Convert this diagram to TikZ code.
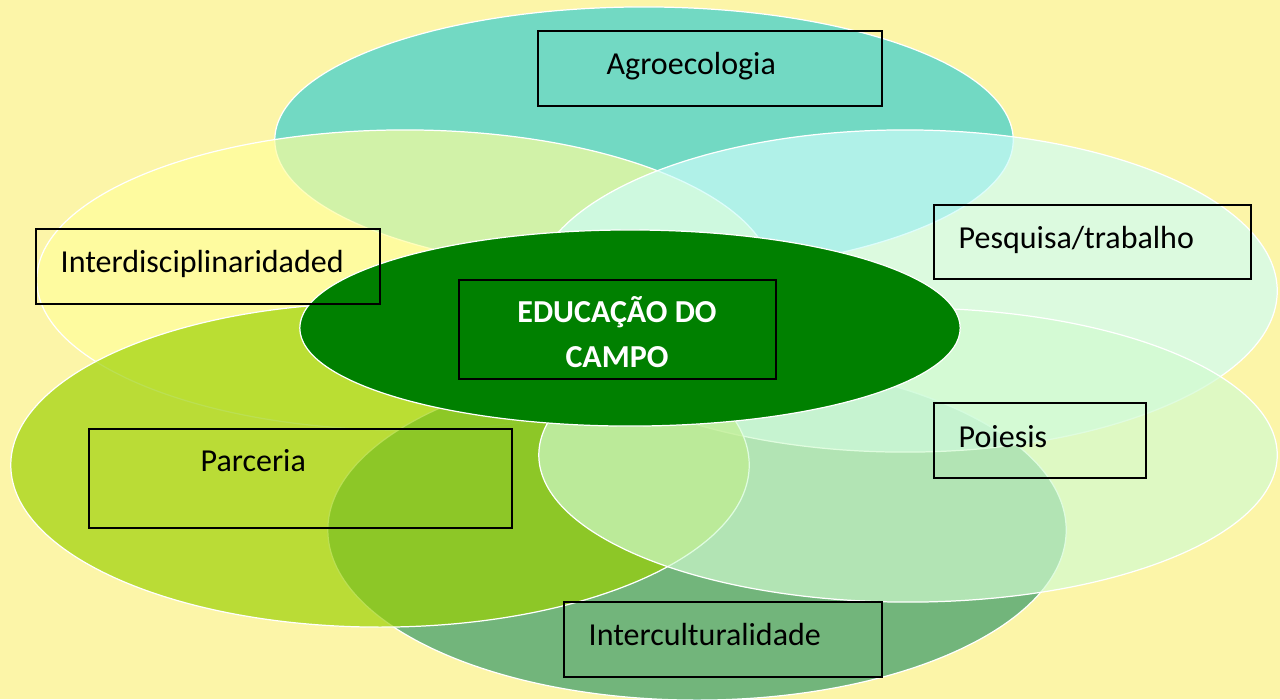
\documentclass[tikz,border=0pt]{standalone}
\usepackage{fontspec}
\setmainfont{Carlito}
\usepackage{tikz}
\usetikzlibrary{calc}
\usepackage{xcolor}
\definecolor{bgYellow}{RGB}{252,245,168}
\definecolor{myTeal}{RGB}{49,204,208}
\definecolor{myLemon}{RGB}{255,254,156}
\definecolor{myMint}{RGB}{206,253,250}
\definecolor{myPale}{RGB}{209,251,208}
\definecolor{myLime}{RGB}{155,209,0}
\definecolor{myForest}{RGB}{49,151,103}
\definecolor{myGreen}{RGB}{0,128,0}
\tikzset{
  blob/.style={fill opacity=0.68, draw=white, line width=0.35pt},
  labelbox/.style={draw=black, line width=0.6pt, inner sep=0pt, rectangle},
  labeltext/.style={inner sep=0pt, anchor=base west, text=black,
    font=\fontsize{9.1}{12.8}\selectfont},
}

\begin{document}
\begin{tikzpicture}[x=0.01cm, y=-0.01cm]

%%%%%%%%%%%%%%%%%%%%%%%%%%%%%%%%%%%%%%%%%%%%%%%%%%%%%%%%%%%%%% Setup
\useasboundingbox (0,0) rectangle (1280,699);
\fill[bgYellow] (0,0) rectangle (1280,699);

%%%%%%%%%%%%%%%%%%%%%%%%%%%%%%%%%%%%%%%%%%%%%%%%%%%%%%%%%%%%%% Ellipses

% agroecologia (top)
\filldraw[blob, fill=myTeal] (644,140) ellipse [x radius=3.69cm, y radius=1.33cm];
% interdisciplinaridade (left)
\filldraw[blob, fill=myLemon] (405,280) ellipse [x radius=3.68cm, y radius=1.50cm];
% interculturalidade (bottom)
\filldraw[blob, fill=myForest] (697,530) ellipse [x radius=3.69cm, y radius=1.70cm];
% pesquisa/trabalho (right)
\filldraw[blob, fill=myMint] (905,291) ellipse [x radius=3.72cm, y radius=1.61cm];
% parceria (lower left)
\filldraw[blob, fill=myLime] (380,465) ellipse [x radius=3.69cm, y radius=1.62cm];
% poiesis (lower right)
\filldraw[blob, fill=myPale] (908,455) ellipse [x radius=3.69cm, y radius=1.47cm];
% centre
\filldraw[fill=myGreen, draw=white, line width=0.35pt] (630,328) ellipse [x radius=3.30cm, y radius=0.98cm];

%%%%%%%%%%%%%%%%%%%%%%%%%%%%%%%%%%%%%%%%%%%%%%%%%%%%%%%%%%%%%% Boxes
\node[labelbox, minimum width=3.44cm, minimum height=0.75cm] (agroBox) at (710,68.5) {};
\node[labelbox, minimum width=3.44cm, minimum height=0.75cm] (interBox) at (208,266.5) {};
\node[labelbox, minimum width=3.17cm, minimum height=0.74cm] (pesqBox) at (1092.5,242) {};
\node[labelbox, minimum width=3.17cm, minimum height=0.99cm] (educBox) at (617.5,329.5) {};
\node[labelbox, minimum width=4.23cm, minimum height=0.99cm] (parcBox) at (300.5,478.5) {};
\node[labelbox, minimum width=2.12cm, minimum height=0.75cm] (poieBox) at (1040,440.5) {};
\node[labelbox, minimum width=3.18cm, minimum height=0.75cm] (cultBox) at (723,639.5) {};

%%%%%%%%%%%%%%%%%%%%%%%%%%%%%%%%%%%%%%%%%%%%%%%%%%%%%%%%%%%%%% Labels
\node[labeltext] (agroText) at (606,74) {Agroecologia};
\node[labeltext] (interText) at (60,272) {Interdisciplinaridaded};
\node[labeltext] (pesqText) at (958,248) {Pesquisa/trabalho};
\node[labeltext] (parcText) at (200,471) {Parceria};
\node[labeltext] (poieText) at (958,447) {Poiesis};
\node[labeltext] (cultText) at (588,645) {Interculturalidade};
% last line sits on the base anchor
\node[labeltext, anchor=base, align=center, text=white, font=\fontsize{9.1}{12.8}\selectfont\bfseries] (educText) at (617,367) {EDUCAÇÃO DO\\CAMPO};

\end{tikzpicture}
\end{document}
